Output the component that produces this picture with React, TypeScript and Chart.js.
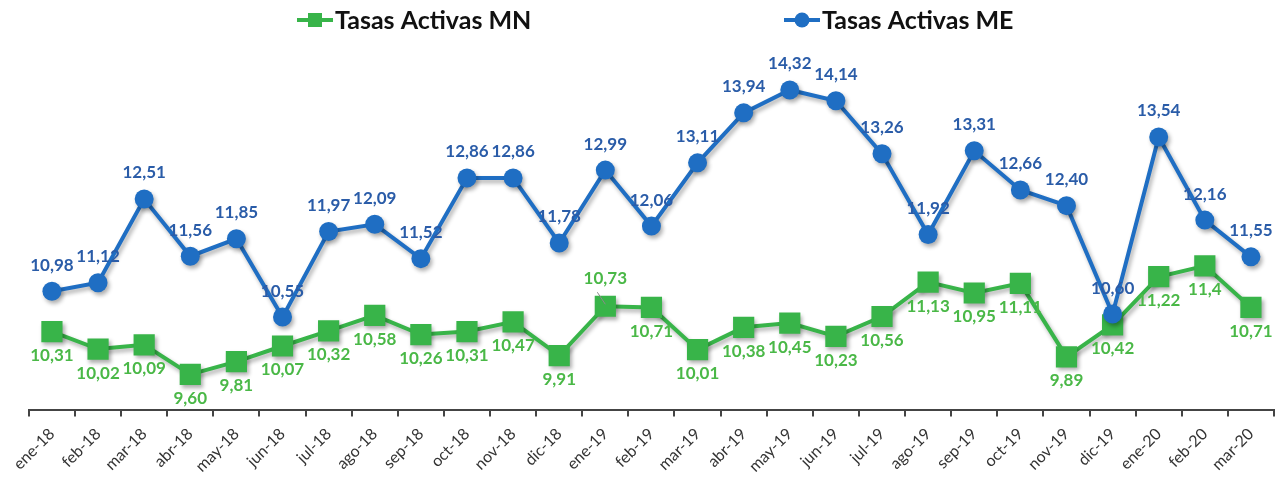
import React, { useEffect, useRef } from 'react';
import { Chart, registerables } from 'chart.js';

Chart.register(...registerables);

const categories = [
  'ene-18', 'feb-18', 'mar-18', 'abr-18', 'may-18', 'jun-18', 'jul-18', 'ago-18', 'sep-18',
  'oct-18', 'nov-18', 'dic-18', 'ene-19', 'feb-19', 'mar-19', 'abr-19', 'may-19', 'jun-19',
  'jul-19', 'ago-19', 'sep-19', 'oct-19', 'nov-19', 'dic-19', 'ene-20', 'feb-20', 'mar-20',
];

// Values as printed on the chart (decimal point; shown with a comma)
const mnValues = [
  '10.31', '10.02', '10.09', '9.60', '9.81', '10.07', '10.32', '10.58', '10.26',
  '10.31', '10.47', '9.91', '10.73', '10.71', '10.01', '10.38', '10.45', '10.23',
  '10.56', '11.13', '10.95', '11.11', '9.89', '10.42', '11.22', '11.4', '10.71',
];

const meValues = [
  '10.98', '11.12', '12.51', '11.56', '11.85', '10.55', '11.97', '12.09', '11.52',
  '12.86', '12.86', '11.78', '12.99', '12.06', '13.11', '13.94', '14.32', '14.14',
  '13.26', '11.92', '13.31', '12.66', '12.40', '10.60', '13.54', '12.16', '11.55',
];

const mnLabelAboveIndex = [12];

const seriesNames = ['Tasas Activas MN', 'Tasas Activas ME'];

const MN_COLOR = '#38B449';
const ME_COLOR = '#1F6EC3';
const MN_LABEL = '#4AB847';
const ME_LABEL = '#2A5CA8';
const FONT = 'Lato, "Open Sans", sans-serif';

const fmt = (s: string) => s.replace('.', ',');

export default function App() {
  const ref = useRef<HTMLCanvasElement | null>(null);

  useEffect(() => {
    if (!ref.current) return;

    const effectsPlugin = {
      id: 'effects',
      beforeDatasetsDraw(chart: any) {
        const ctx = chart.ctx;
        ctx.save();
        ctx.shadowColor = 'rgba(0,0,0,0.32)';
        ctx.shadowBlur = 4;
        ctx.shadowOffsetX = 2;
        ctx.shadowOffsetY = 3;
      },
      afterDatasetsDraw(chart: any) {
        const ctx = chart.ctx;
        ctx.restore();
        ctx.save();
        ctx.font = `bold 17px ${FONT}`;
        ctx.textAlign = 'center';
        ctx.textBaseline = 'middle';
        const meMeta = chart.getDatasetMeta(0);
        meMeta.data.forEach((pt: any, i: number) => {
          ctx.fillStyle = ME_LABEL;
          ctx.fillText(fmt(meValues[i]), pt.x, pt.y - 26);
        });
        const mnMeta = chart.getDatasetMeta(1);
        mnMeta.data.forEach((pt: any, i: number) => {
          ctx.fillStyle = MN_LABEL;
          const above = mnLabelAboveIndex.includes(i);
          ctx.fillText(fmt(mnValues[i]), pt.x, above ? pt.y - 28 : pt.y + 24);
          if (above) {
            ctx.strokeStyle = '#8a8a8a';
            ctx.lineWidth = 1;
            ctx.beginPath();
            ctx.moveTo(pt.x - 8, pt.y - 14);
            ctx.lineTo(pt.x, pt.y - 2);
            ctx.stroke();
          }
        });
        ctx.restore();
      },
      afterDraw(chart: any) {
        const ctx = chart.ctx;
        const items = [
          { name: seriesNames[0], color: MN_COLOR, style: 'rect', x: 289 },
          { name: seriesNames[1], color: ME_COLOR, style: 'circle', x: 776 },
        ];
        const cy = 12;
        ctx.save();
        items.forEach((it) => {
          ctx.strokeStyle = it.color;
          ctx.fillStyle = it.color;
          ctx.lineWidth = 4;
          ctx.beginPath();
          ctx.moveTo(it.x, cy);
          ctx.lineTo(it.x + 36, cy);
          ctx.stroke();
          ctx.beginPath();
          if (it.style === 'rect') {
            ctx.rect(it.x + 18 - 7, cy - 7, 14, 14);
          } else {
            ctx.arc(it.x + 18, cy, 7.5, 0, Math.PI * 2);
          }
          ctx.fill();
          ctx.fillStyle = '#111111';
          ctx.font = `bold 25px ${FONT}`;
          ctx.textAlign = 'left';
          ctx.textBaseline = 'middle';
          ctx.fillText(it.name, it.x + 38, cy + 1);
        });
        ctx.restore();
      },
    };

    const chart = new Chart(ref.current, {
      type: 'line',
      data: {
        labels: categories,
        datasets: [
          {
            label: seriesNames[1],
            data: meValues.map(Number),
            borderColor: ME_COLOR,
            backgroundColor: ME_COLOR,
            borderWidth: 4,
            pointStyle: 'circle',
            pointRadius: 9.5,
            pointBorderWidth: 0,
            tension: 0,
          },
          {
            label: seriesNames[0],
            data: mnValues.map(Number),
            borderColor: MN_COLOR,
            backgroundColor: MN_COLOR,
            borderWidth: 4,
            pointStyle: 'rect',
            pointRadius: 15,
            pointBorderWidth: 0,
            tension: 0,
          },
        ],
      },
      options: {
        animation: false,
        responsive: true,
        maintainAspectRatio: false,
        layout: { padding: { top: 41, left: 19, right: 0, bottom: -7 } },
        plugins: {
          legend: { display: false },
          tooltip: { enabled: false },
        },
        scales: {
          x: {
            offset: true,
            grid: {
              offset: true,
              drawOnChartArea: false,
              drawTicks: true,
              tickLength: 6,
              color: '#444444',
              lineWidth: 2,
            },
            border: { display: true, color: '#444444', width: 2 },
            ticks: {
              autoSkip: false,
              maxRotation: 45,
              minRotation: 45,
              color: '#333333',
              font: { family: FONT, size: 16 },
              padding: 8,
            },
          },
          y: {
            display: false,
            min: 9,
            max: 15,
          },
        },
      },
      plugins: [effectsPlugin],
    });

    return () => chart.destroy();
  }, []);

  return (
    <div style={{ width: '100%', height: '469px', overflow: 'hidden' }}>
      <div style={{ position: 'relative', width: 'calc(100% + 11px)', height: '469px' }}>
        <canvas ref={ref} />
      </div>
    </div>
  );
}
